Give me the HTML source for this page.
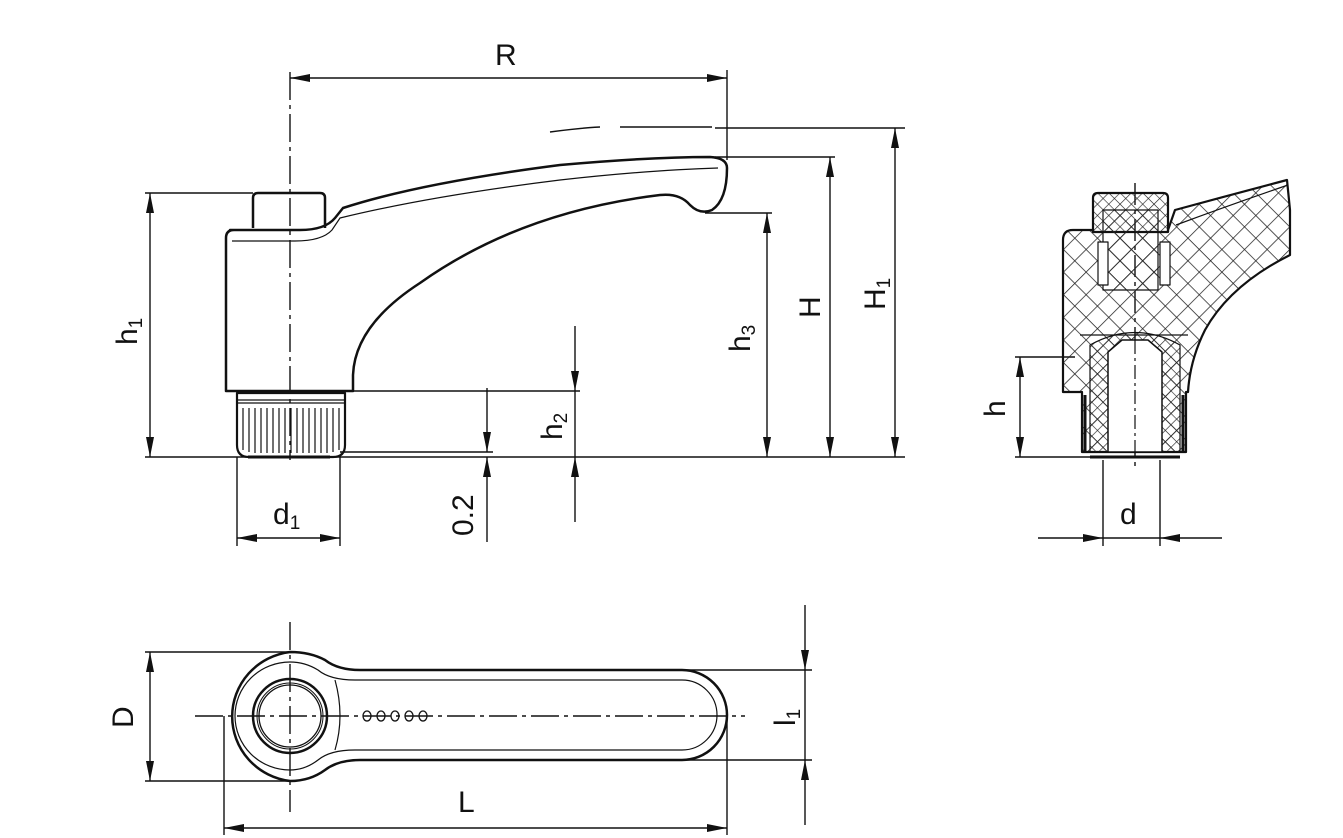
<!DOCTYPE html>
<html><head><meta charset="utf-8"><style>
html,body{margin:0;padding:0;background:#fff;}
svg{display:block;}
text{font-family:"Liberation Sans",sans-serif;fill:#111;}
</style></head><body>
<svg width="1343" height="838" viewBox="0 0 1343 838" xmlns="http://www.w3.org/2000/svg">
<defs>
<marker id="a" viewBox="0 0 20 8" refX="20" refY="4" markerWidth="20" markerHeight="8" orient="auto" markerUnits="userSpaceOnUse"><path d="M0,0 L20,4 L0,8 z" fill="#111"/></marker>
<pattern id="x" width="16" height="16" patternUnits="userSpaceOnUse" patternTransform="rotate(45)"><path d="M0,0 V16 M0,0 H16" stroke="#222" stroke-width="1.5"/></pattern>
<pattern id="x2" width="8" height="8" patternUnits="userSpaceOnUse" patternTransform="rotate(45)"><path d="M0,0 V8 M0,0 H8" stroke="#222" stroke-width="1.3"/></pattern>
</defs>
<g fill="none" stroke="#111" stroke-width="1.4">
<path d="M290,72 V460" stroke-dasharray="28,5,4,5"/>
<path d="M290,622 V812" stroke-dasharray="28,5,4,5"/>
<path d="M195,716 H745" stroke-dasharray="28,5,4,5"/>
<path d="M1135,183 V470" stroke-dasharray="22,5,4,5"/>
<path d="M145,193 H253 M145,457 H905 M727,70 V160 M715,128 H905 M715,157 H835 M705,213 H772 M353,391 H580 M340,452 H493 M237,457 V546 M340,457 V546"/>
<path d="M550,132 Q580,128 600,127 M620,127 H712" />
<path d="M145,652 H290 M145,781 H290 M224,716 V835 M727,716 V835 M682,670 H812 M682,760 H812"/>
<path d="M1015,357 H1075 M1015,457 H1090 M1103,460 V546 M1160,460 V546"/>
<path d="M150,325 V193" marker-end="url(#a)"/><path d="M150,325 V457" marker-end="url(#a)"/>
<path d="M508,78 H290" marker-end="url(#a)"/><path d="M508,78 H727" marker-end="url(#a)"/>
<path d="M767,335 V213" marker-end="url(#a)"/><path d="M767,335 V457" marker-end="url(#a)"/>
<path d="M830,305 V157" marker-end="url(#a)"/><path d="M830,305 V457" marker-end="url(#a)"/>
<path d="M895,292 V128" marker-end="url(#a)"/><path d="M895,292 V457" marker-end="url(#a)"/>
<path d="M575,326 V391" marker-end="url(#a)"/><path d="M575,522 V457" marker-end="url(#a)"/><path d="M575,391 V457"/>
<path d="M487,388 V452" marker-end="url(#a)"/><path d="M487,542 V457" marker-end="url(#a)"/>
<path d="M288,538 H237" marker-end="url(#a)"/><path d="M288,538 H340" marker-end="url(#a)"/>
<path d="M1020,405 V357" marker-end="url(#a)"/><path d="M1020,405 V457" marker-end="url(#a)"/>
<path d="M1038,538 H1103" marker-end="url(#a)"/><path d="M1222,538 H1160" marker-end="url(#a)"/><path d="M1103,538 H1160"/>
<path d="M150,716 V652" marker-end="url(#a)"/><path d="M150,716 V781" marker-end="url(#a)"/>
<path d="M475,828 H224" marker-end="url(#a)"/><path d="M475,828 H727" marker-end="url(#a)"/>
<path d="M805,605 V670" marker-end="url(#a)"/><path d="M805,825 V760" marker-end="url(#a)"/><path d="M805,670 V760"/>
</g>
<g fill="none" stroke="#111" stroke-width="2.5" stroke-linejoin="round">
<path d="M253,228 V198 Q253,193 258,193 H320 Q325,193 325,198 V228"/>
<path d="M230,230 H300 Q325,230 335,218 L343,208 Q420,183 560,165 Q650,157 710,157 Q727,158 727,168 Q727,200 712,210 Q700,215 690,205 Q680,193 660,195 Q520,212 420,283 Q355,325 353,375 V391 H226 V238 Q226,230 234,230 Z"/>
<path d="M237,393 H345 V445 Q345,457 333,457 H249 Q237,457 237,445 Z" stroke-width="2.2"/>
<path d="M248,457 H330" stroke-width="3"/>
</g>
<g fill="none" stroke="#111" stroke-width="1.2">
<path d="M232,241 H295 Q322,241 332,230 L340,218 Q430,196 560,180 Q650,170 718,168"/>
<path d="M237,400 H345 M237,403 H345"/>
<path d="M243,408 V450 M249,408 V452 M255,408 V453 M261,408 V453 M267,408 V453 M273,408 V453 M279,408 V453 M285,408 V453 M291,408 V453 M297,408 V453 M303,408 V453 M309,408 V453 M315,408 V453 M321,408 V453 M327,408 V453 M333,408 V452 M339,408 V450"/>
</g>
<g stroke="#111" stroke-width="2.2" stroke-linejoin="round">
<path d="M1063,240 Q1063,230 1073,230 H1093 V232 H1168 V230 L1175,210 Q1230,195 1287,180 L1290,210 L1290,255 Q1230,285 1205,330 Q1190,360 1188,392 H1186 V452 H1082 V392 H1063 Z" fill="url(#x)"/>
<path d="M1176,225 Q1230,205 1288,185" fill="none" stroke-width="1.2"/>
<path d="M1093,232 V198 Q1093,193 1098,193 H1163 Q1168,193 1168,198 V232" fill="url(#x2)"/>
<path d="M1103,210 H1158 V290 H1103 Z" fill="url(#x)" stroke-width="1.2"/>
<path d="M1098,242 H1108 V285 H1098 Z M1160,242 H1170 V285 H1160 Z" fill="#fff" stroke-width="1.2"/>
<path d="M1080,335 H1188" fill="none" stroke-width="1.2"/>
<path d="M1090,345 Q1135,320 1180,345 V452 H1090 Z" fill="url(#x2)" stroke-width="1.2"/>
<path d="M1108,352 L1122,340 H1148 L1162,352 V452 H1108 Z" fill="#fff" stroke-width="1.5"/>
<path d="M1085,395 V452 M1183,395 V452" fill="none" stroke-width="3"/>
<path d="M1090,457 H1180" stroke-width="3"/>
</g>
<path d="M1135,340 V455" stroke="#111" stroke-width="1.2" stroke-dasharray="14,4,3,4"/>
<g fill="none" stroke="#111" stroke-linejoin="round">
<path d="M290,652 Q310,652 325,660 Q338,670 360,670 H682 A45,45 0 0 1 682,760 H360 Q338,760 325,770 Q310,781 290,781 A66,65 0 0 1 290,652 Z" stroke-width="2.5"/>
<path d="M290,662 Q305,662 318,670 Q330,680 355,680 H682 A35,35 0 0 1 682,750 H355 Q330,750 318,760 Q305,770 290,770 A55,54 0 0 1 290,662 Z" stroke-width="1.2"/>
<path d="M335,680 Q345,716 335,750" stroke-width="1.2"/>
<circle cx="290" cy="716" r="37" stroke-width="2.5"/>
<circle cx="290" cy="716" r="31" stroke-width="1.3"/>
<circle cx="290" cy="716" r="33" stroke-width="1"/>
<g stroke-width="1.3"><ellipse cx="367" cy="716" rx="4" ry="5"/><ellipse cx="381" cy="716" rx="4" ry="5"/><ellipse cx="395" cy="716" rx="4" ry="5"/><ellipse cx="409" cy="716" rx="4" ry="5"/><ellipse cx="423" cy="716" rx="4" ry="5"/></g>
</g>
<g font-size="30">
<text x="495" y="65">R</text>
<text x="273" y="524">d<tspan font-size="19" dy="5">1</tspan></text>
<text x="1120" y="524">d</text>
<text x="458" y="812">L</text>
<text transform="translate(137,345) rotate(-90)">h<tspan font-size="19" dy="5">1</tspan></text>
<text transform="translate(562,440) rotate(-90)">h<tspan font-size="19" dy="5">2</tspan></text>
<text transform="translate(750,352) rotate(-90)">h<tspan font-size="19" dy="5">3</tspan></text>
<text transform="translate(820,318) rotate(-90)">H</text>
<text transform="translate(885,310) rotate(-90)">H<tspan font-size="19" dy="5">1</tspan></text>
<text transform="translate(473,536) rotate(-90)">0.2</text>
<text transform="translate(1005,417) rotate(-90)">h</text>
<text transform="translate(133,728) rotate(-90)">D</text>
<text transform="translate(795,726) rotate(-90)">l<tspan font-size="19" dy="5">1</tspan></text>
</g>
</svg>
</body></html>
